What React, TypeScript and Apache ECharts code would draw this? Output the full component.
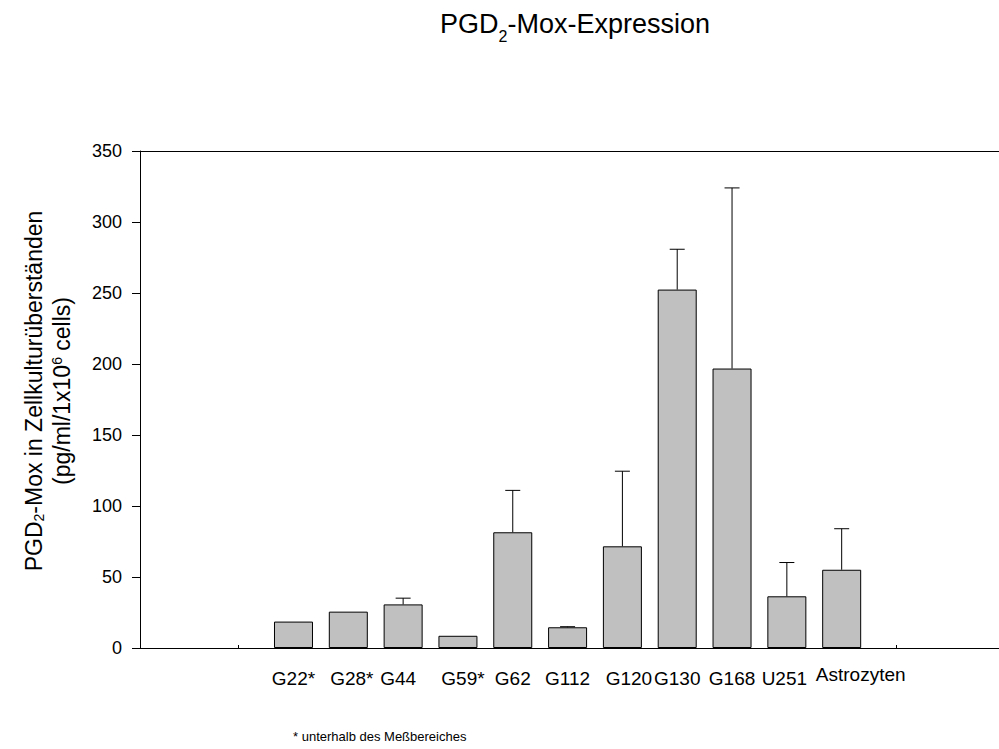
import React, { useEffect, useRef } from "react";
import * as echarts from "echarts";

// ---- data ----
const categories = ["", "G22*", "G28*", "G44", "G59*", "G62", "G112", "G120", "G130", "G168", "U251", "Astrozyten", ""];
const means: (number | null)[] = [null, 18.6, 25.6, 30.7, 8.6, 81.5, 14.6, 71.6, 252.4, 196.8, 36.4, 55.1, null];
const upperErr: (number | null)[] = [null, null, null, 35.1, null, 111, 15.0, 124.5, 280.8, 324.0, 60.2, 84.0, null];
const yMin = 0;
const yMax = 350;
const yStep = 50;
const titleMain = ["PGD", "2", "-Mox-Expression"];
const yTitleLine1 = ["PGD", "2", "-Mox in Zellkulturüberständen"];
const yTitleLine2 = ["(pg/ml/1x10", "6", " cells)"];
const footnote = "* unterhalb des Meßbereiches";

// label horizontal nudges in px (style only)
const labelShiftPx: Record<string, number> = {
  "G28*": 3.5,
  "G44": -5,
  "G59*": 5,
  "G120": 6.5,
  "U251": -2.5,
  "Astrozyten": 19,
};

const FONT = "'Liberation Sans', Arial, Helvetica, sans-serif";
const X_MIN = -1.8;
const X_MAX = 13.87;
const GRID_LEFT = 140;
const GRID_RIGHT = 0;
const WIDTH = 999;

export default function App() {
  const ref = useRef<HTMLDivElement>(null);
  useEffect(() => {
    if (!ref.current) return;
    const chart = echarts.init(ref.current, undefined, { renderer: "svg" });
    const idx = categories.map((_, i) => i);
    const barData = idx.filter((i) => means[i] != null).map((i) => [i, means[i] as number]);
    const errData = idx
      .filter((i) => means[i] != null && upperErr[i] != null)
      .map((i) => [i, means[i] as number, upperErr[i] as number]);

    const pxPerUnit = (WIDTH - GRID_LEFT - GRID_RIGHT) / (X_MAX - X_MIN);
    const labelValues = idx
      .filter((i) => categories[i] !== "")
      .map((i) => i + (labelShiftPx[categories[i]] || 0) / pxPerUnit);

    const option: any = {
      animation: false,
      backgroundColor: "#fff",
      grid: { left: GRID_LEFT, right: GRID_RIGHT, top: 151, bottom: 101, containLabel: false },
      xAxis: [
        {
          type: "value",
          min: X_MIN,
          max: X_MAX,
          splitLine: { show: false },
          axisLine: { show: true, onZero: false, lineStyle: { color: "#000", width: 1 } },
          axisTick: {
            show: true,
            inside: true,
            length: 3,
            customValues: idx,
            lineStyle: { color: "#000" },
          },
          axisLabel: {
            show: true,
            margin: 21,
            hideOverlap: false,
            showMinLabel: true,
            showMaxLabel: true,
            customValues: labelValues,
            formatter: (v: number) => {
              const name = categories[Math.round(v)] || "";
              return name === "Astrozyten" ? `{u|${name}}` : `{n|${name}}`;
            },
            rich: {
              n: { fontSize: 19, fontFamily: FONT, color: "#000", lineHeight: 19 },
              u: { fontSize: 19, fontFamily: FONT, color: "#000", lineHeight: 11 },
            },
            fontSize: 19,
            fontFamily: FONT,
            color: "#000",
          },
        },
        {
          type: "value",
          position: "top",
          min: X_MIN,
          max: X_MAX,
          splitLine: { show: false },
          axisLine: { show: true, onZero: false, lineStyle: { color: "#000", width: 1 } },
          axisTick: { show: false },
          axisLabel: { show: false },
        },
      ],
      yAxis: {
        type: "value",
        min: yMin,
        max: yMax,
        interval: yStep,
        splitLine: { show: false },
        axisLine: { show: true, onZero: false, lineStyle: { color: "#000", width: 1 } },
        axisTick: { show: true, inside: false, length: 8, lineStyle: { color: "#000" } },
        axisLabel: { margin: 18, fontSize: 18, fontFamily: FONT, color: "#000" },
      },
      series: [
        {
          type: "bar",
          data: barData,
          barWidth: 39,
          itemStyle: { color: "#c0c0c0", borderColor: "#000", borderWidth: 1 },
          emphasis: { disabled: true },
        },
        {
          type: "custom",
          data: errData,
          encode: { x: 0, y: [1, 2] },
          z: 5,
          renderItem: (params: any, api: any) => {
            const x = api.value(0);
            const p0 = api.coord([x, api.value(1)]);
            const p1 = api.coord([x, api.value(2)]);
            const st = { stroke: "#000", lineWidth: 1 };
            return {
              type: "group",
              children: [
                { type: "line", shape: { x1: p0[0], y1: p0[1], x2: p1[0], y2: p1[1] }, style: st },
                { type: "line", shape: { x1: p1[0] - 7.5, y1: p1[1], x2: p1[0] + 7.5, y2: p1[1] }, style: st },
              ],
            };
          },
        },
      ],
      graphic: [
        {
          type: "text",
          x: 575,
          y: 24,
          style: {
            text: `{a|${titleMain[0]}}{s|${titleMain[1]}}{a|${titleMain[2]}}`,
            align: "center",
            verticalAlign: "middle",
            rich: {
              a: { fontSize: 27, fontFamily: FONT, fill: "#000", lineHeight: 40 },
              s: { fontSize: 16, fontFamily: FONT, fill: "#000", lineHeight: 16, verticalAlign: "bottom" },
            },
          },
        },
        {
          type: "text",
          x: 34,
          y: 391,
          rotation: Math.PI / 2,
          style: {
            text: `{a|${yTitleLine1[0]}}{s|${yTitleLine1[1]}}{a|${yTitleLine1[2]}}`,
            align: "center",
            verticalAlign: "middle",
            rich: {
              a: { fontSize: 23, fontFamily: FONT, fill: "#000", lineHeight: 24 },
              s: { fontSize: 14, fontFamily: FONT, fill: "#000", lineHeight: 14, verticalAlign: "bottom" },
            },
          },
        },
        {
          type: "text",
          x: 62,
          y: 391,
          rotation: Math.PI / 2,
          style: {
            text: `{a|${yTitleLine2[0]}}{s|${yTitleLine2[1]}}{a|${yTitleLine2[2]}}`,
            align: "center",
            verticalAlign: "middle",
            rich: {
              a: { fontSize: 23, fontFamily: FONT, fill: "#000", lineHeight: 25 },
              s: { fontSize: 14, fontFamily: FONT, fill: "#000", lineHeight: 14, verticalAlign: "top" },
            },
          },
        },
        {
          type: "text",
          x: 293,
          y: 736,
          style: {
            text: footnote,
            fontSize: 13,
            fontFamily: FONT,
            fill: "#000",
            align: "left",
            verticalAlign: "middle",
          },
        },
      ],
    };
    chart.setOption(option);
    return () => chart.dispose();
  }, []);
  return (
    <div
      ref={ref}
      style={{ position: "absolute", left: 0, top: 0, width: 999, height: 749, background: "#fff" }}
    />
  );
}
